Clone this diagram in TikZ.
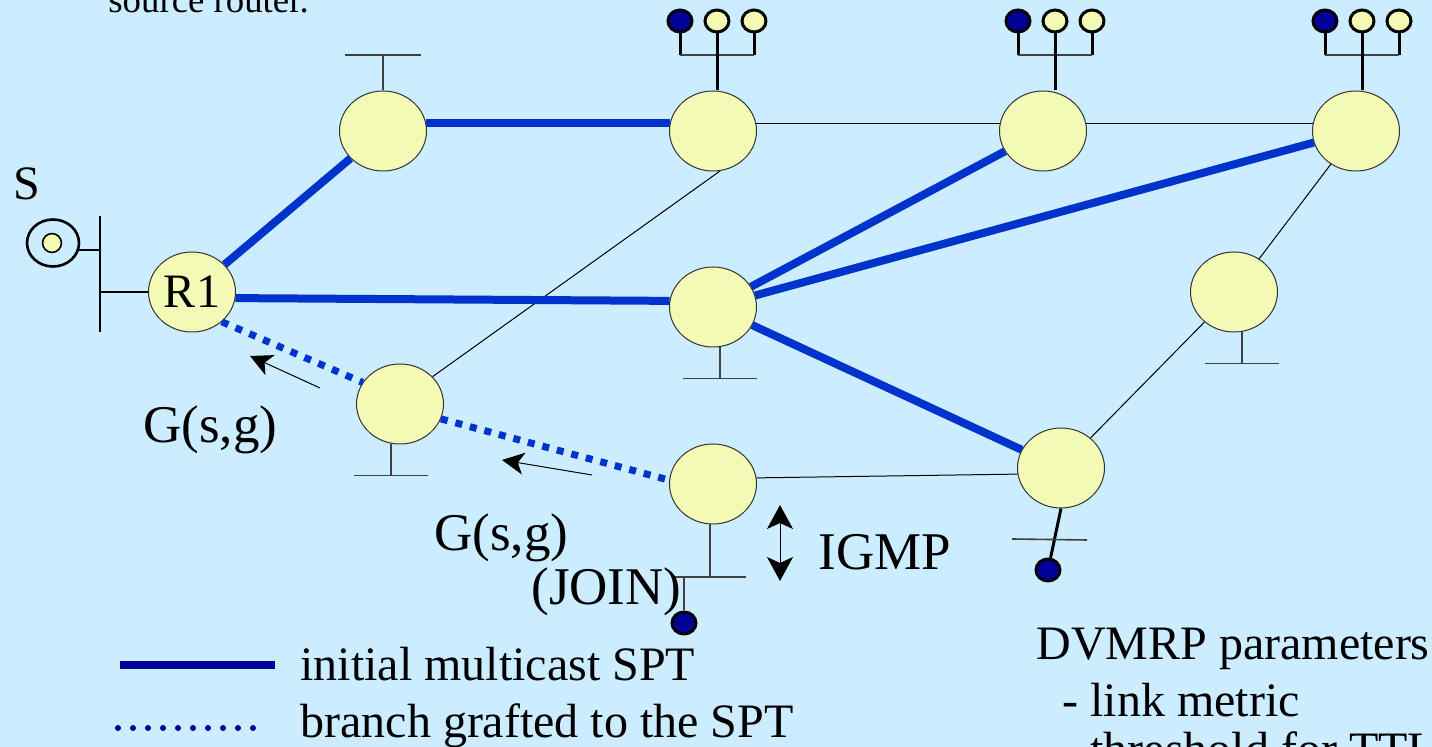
\documentclass[tikz,border=0pt]{standalone}
\usepackage{fontspec}
\setmainfont{Liberation Serif}
\usetikzlibrary{shapes.geometric,arrows.meta}
\definecolor{mcbg}{RGB}{204,236,255}
\definecolor{mcrouter}{RGB}{243,250,182}
\definecolor{mcblue}{RGB}{0,51,204}
\definecolor{mcnavy}{RGB}{0,0,153}
\newcommand{\mclabel}{\fontsize{24pt}{28pt}\selectfont}
\newcommand{\mcmsg}{\fontsize{26.5pt}{30pt}\selectfont}
% three hosts on a LAN above a router: \mchosts{prefix}{x of middle host}{router}
\newcommand{\mchosts}[3]{%
  \node[host,fill=mcnavy] (#1h1) at (#2-37,21) {};%
  \node[host] (#1h2) at (#2,21) {};%
  \node[host] (#1h3) at (#2+37,21) {};%
  \coordinate (#1bl) at (#2-37,55);%
  \coordinate (#1br) at (#2+37,55);%
  \draw[wire] (#1h1) -- (#1bl);%
  \draw[wire] (#1h3) -- (#1br);%
  \draw[stub,line width=1pt] (#1bl) -- (#1br);%
  \draw[wire] (#1h2) -- (#1h2 |- #3.north);}

\begin{document}
\begin{tikzpicture}[x=0.5pt,y=-0.5pt,
  router/.style={ellipse,draw=black!80,line width=0.5pt,fill=mcrouter,
    minimum width=43.5pt,minimum height=40pt,inner sep=0pt,font=\mclabel},
  host/.style={ellipse,draw=black,line width=1.5pt,fill=mcrouter,
    minimum width=12pt,minimum height=11pt,inner sep=0pt},
  spt/.style={mcblue,line width=4pt},
  graft/.style={mcblue,line width=3.5pt,dash pattern=on 3.5pt off 4pt},
  link/.style={black,line width=0.5pt},
  stub/.style={black!75,line width=0.8pt},
  wire/.style={black,line width=1.5pt},
  msg/.style={link,-{Stealth[length=11pt,width=11pt,inset=3pt]}},
  lbl/.style={font=\mclabel,inner sep=0pt,anchor=base west}]
  \useasboundingbox (0,0) rectangle (1432,747);
  \fill[mcbg] (0,0) rectangle (1432,747);
  \clip (0,0) rectangle (1432,747);
  % --- routers ---
  \node[router] (r1) at (192,292) {R1};
  \node[router] (ra) at (383,131) {};
  \node[router] (rb) at (713,131) {};
  \node[router] (rc) at (1043,131) {};
  \node[router] (rd) at (1356,131) {};
  \node[router] (re) at (713,307) {};
  \node[router] (rf) at (1234,292) {};
  \node[router] (rg) at (400,404) {};
  \node[router] (rh) at (713,484) {};
  \node[router] (ri) at (1061,468) {};
  % --- host LANs on top ---
  \mchosts{lb}{717}{rb}
  \mchosts{lc}{1055}{rc}
  \mchosts{ld}{1362}{rd}
  % --- stub LANs ---
  \coordinate (ras) at (ra.north);
  \coordinate (rat) at (383,55);
  \draw[stub] (ras) -- (rat);
  \draw[stub] ([xshift=-19pt]rat) -- ([xshift=19pt]rat);
  \foreach \r/\dx in {re/7, rf/8, rg/-9}{%
    \coordinate (\r s) at ([xshift=\dx*0.5pt]\r.south);
    \coordinate (\r t) at ([yshift=-15.5pt]\r s);
    \draw[stub] (\r s) -- (\r t);
    \draw[stub] ([xshift=-18.5pt]\r t) -- ([xshift=18.5pt]\r t);}
  % receiver below rh
  \coordinate (rhs) at (710,524);
  \coordinate (rht) at (710,577);
  \draw[stub] (rhs) -- (rht);
  \draw[stub] (672,577) -- (746,577);
  \node[host,fill=mcnavy] (rhx) at (684,623) {};
  \draw[stub,line width=1pt] (rhx) -- (rhx |- rht);
  % receiver below ri
  \node[host,fill=mcnavy] (rix) at (1048,570) {};
  \draw[wire] (ri.south) -- (rix);
  \draw[stub] (1012,539) -- (1087,540);
  % --- source S on the LAN of R1 ---
  \coordinate (lantop) at (100,216);
  \coordinate (lanbot) at (100,332);
  \draw[black,line width=1.2pt] (lantop) -- (lanbot);
  \draw[black,line width=1.2pt] (r1.west -| lantop) -- (r1.west);
  \node[ellipse,draw=black,line width=1.3pt,minimum width=26pt,minimum height=23.5pt] (src) at (53,243) {};
  \node[ellipse,draw=black,line width=0.8pt,fill=mcrouter,minimum width=9pt,minimum height=8pt] (srcdot) at (52,243) {};
  \draw[black,line width=1.2pt] (src.-15) -- (src.-15 -| lantop);
  \node[lbl] (slbl) at (13,200) {S};
  % --- thin links ---
  \draw[link] (rb.10) -- (rc.170);
  \draw[link] (rc.10) -- (rd.170);
  \draw[link] (rb.-80) -- (rg.40);
  \draw[link] (rd) -- (rf);
  \draw[link] (rf) -- (ri);
  \draw[link] (rh.8) -- (ri.188);
  % --- initial SPT ---
  \draw[spt] (r1) -- (ra);
  \draw[spt] (ra.10) -- (rb.170);
  \draw[spt] (r1.-8) -- (re.172);
  \draw[spt] (re) -- (rc);
  \draw[spt] (re) -- (rd);
  \draw[spt] (re) -- (ri);
  % --- grafted branch ---
  \draw[graft] (r1.-45) -- (rg.150);
  \draw[graft] (rg.-20) -- (rh.175);
  % --- graft messages ---
  \coordinate (m1tail) at (320,388);
  \coordinate (m1tip) at (250,356);
  \coordinate (m2tail) at (592,475);
  \coordinate (m2tip) at (502,460);
  \draw[msg] (m1tail) -- (m1tip);
  \draw[msg] (m2tail) -- (m2tip);
  \node[lbl,font=\mcmsg] (g1) at (143,443) {G(s,g)};
  \node[lbl,font=\mcmsg] (g2) at (434,551) {G(s,g)};
  \node[lbl,font=\mcmsg] (join) at (531,605) {(JOIN)};
  % --- IGMP ---
  \coordinate (igtop) at (780,505);
  \coordinate (igbot) at (780,581);
  \draw[link,{Stealth[length=12pt,width=13pt,inset=3pt]}-{Stealth[length=12pt,width=13pt,inset=3pt]}] (igtop) -- (igbot);
  \node[lbl,font=\mcmsg] (igmp) at (818,570) {IGMP};
  % --- legend ---
  \coordinate (lg1a) at (120,665);
  \coordinate (lg1b) at (275,665);
  \coordinate (lg2a) at (118,728);
  \coordinate (lg2b) at (266,728);
  \draw[mcnavy,line width=4pt] (lg1a) -- (lg1b);
  \draw[mcnavy,line width=3pt,line cap=round,dash pattern=on 0pt off 7.5pt] (lg2a) -- (lg2b);
  \node[lbl] (lgt1) at (300,681) {initial multicast SPT};
  \node[lbl] (lgt2) at (300,738) {branch grafted to the SPT};
  % --- notes ---
  \node[lbl,font=\fontsize{18.4pt}{22pt}\selectfont] (top) at (108,13) {source router.};
  \node[lbl] (par0) at (1036,660) {DVMRP parameters};
  \node[lbl] (par1) at (1062,717) {- link metric};
  \node[lbl] (par2) at (1062,766) {- threshold for TTL};
\end{tikzpicture}
\end{document}
